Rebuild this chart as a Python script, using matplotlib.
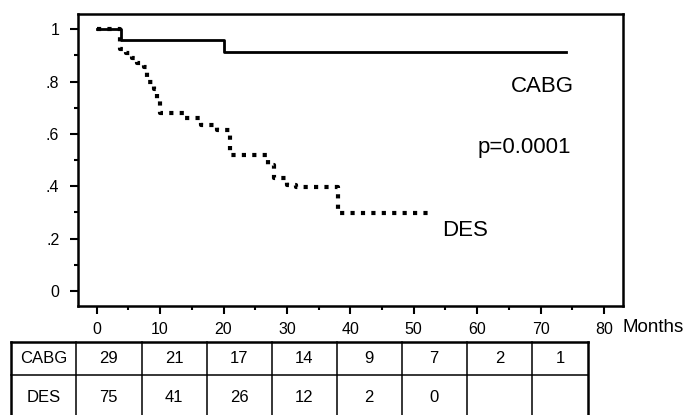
import matplotlib
matplotlib.use('Agg')
import matplotlib.pyplot as plt

plt.rcParams['font.family'] = ['Liberation Sans', 'DejaVu Sans']

# Kaplan-Meier steps (months, survival)
cabg_t = [0, 3.8, 20, 74]
cabg_s = [1.0, 0.959, 0.914, 0.914]

des_t = [0, 3.7, 4.6, 5.6, 6.4, 7.5, 8.0, 9.0, 9.5, 10.0, 14.0, 16.5, 19.0,
         21.0, 27.0, 28.0, 30.0, 31.5, 38.0, 52.2]
des_s = [1.0, 0.925, 0.91, 0.89, 0.872, 0.857, 0.80, 0.77, 0.73, 0.68, 0.66,
         0.635, 0.615, 0.52, 0.48, 0.43, 0.405, 0.397, 0.298, 0.298]

xticks = [0, 10, 20, 30, 40, 50, 60, 70, 80]
yticks = [0, 0.2, 0.4, 0.6, 0.8, 1.0]
ylabels = ['0', '.2', '.4', '.6', '.8', '1']

# numbers at risk
row_names = ['CABG', 'DES']
cabg_risk = ['29', '21', '17', '14', '9', '7', '2', '1']
des_risk = ['75', '41', '26', '12', '2', '0', '', '']

W, H = 686, 415
fig = plt.figure(figsize=(W / 100, H / 100), dpi=100)
ax = fig.add_axes([78 / W, 1 - 306 / H, (623.3 - 78) / W, (306 - 14) / H])

ax.step(des_t, des_s, where='post', color='black', lw=3.0,
        linestyle=(0, (1, 1.5)), dash_capstyle='butt')
ax.step(cabg_t, cabg_s, where='post', color='black', lw=2.0)

ax.set_xlim(-2.95, 83.06)
ax.set_ylim(-0.0573, 1.0585)
ax.set_xticks(xticks)
ax.set_xticks(range(5, 80, 10), minor=True)
ax.set_yticks(yticks)
ax.set_yticklabels(ylabels)
ax.set_yticks([0.1, 0.3, 0.5, 0.7, 0.9], minor=True)
ax.tick_params(which='major', length=5.5, width=1.5, labelsize=11.5)
ax.tick_params(which='minor', length=2.8, width=1.5)
ax.tick_params(axis='y', pad=8)
ax.tick_params(axis='x', pad=6)
for sp in ax.spines.values():
    sp.set_linewidth(1.8)

ax.text(75.2, 0.783, 'CABG', fontsize=16, ha='right', va='center')
ax.text(74.8, 0.55, 'p=0.0001', fontsize=16, ha='right', va='center')
ax.text(54.5, 0.233, 'DES', fontsize=16, ha='left', va='center')

fig.text(623 / W, 1 - 327 / H, 'Months', fontsize=13.5, ha='left', va='center')

# number-at-risk table, drawn in pixel coordinates
tab = fig.add_axes([0, 0, 1, 1])
tab.set_xlim(0, W)
tab.set_ylim(H, 0)
tab.axis('off')
col_edges = [11, 76, 141.7, 206.7, 271.7, 336.7, 401.7, 466.7, 532.3, 588.3]
top, mid, bot = 341.7, 375.3, 420
row_y = [358.5, 397.7]

tab.plot([col_edges[0], col_edges[-1]], [top, top], color='black', lw=1.8)
tab.plot([col_edges[0], col_edges[-1]], [mid, mid], color='black', lw=1.1)
for i, xe in enumerate(col_edges):
    lw = 1.8 if i in (0, len(col_edges) - 1) else 1.1
    tab.plot([xe, xe], [top, bot], color='black', lw=lw)

for r, (name, vals) in enumerate(zip(row_names, [cabg_risk, des_risk])):
    cells = [name] + vals
    for c, txt in enumerate(cells):
        xc = (col_edges[c] + col_edges[c + 1]) / 2
        tab.text(xc, row_y[r], txt, fontsize=12, ha='center', va='center')

fig.savefig('out.png', dpi=100)
